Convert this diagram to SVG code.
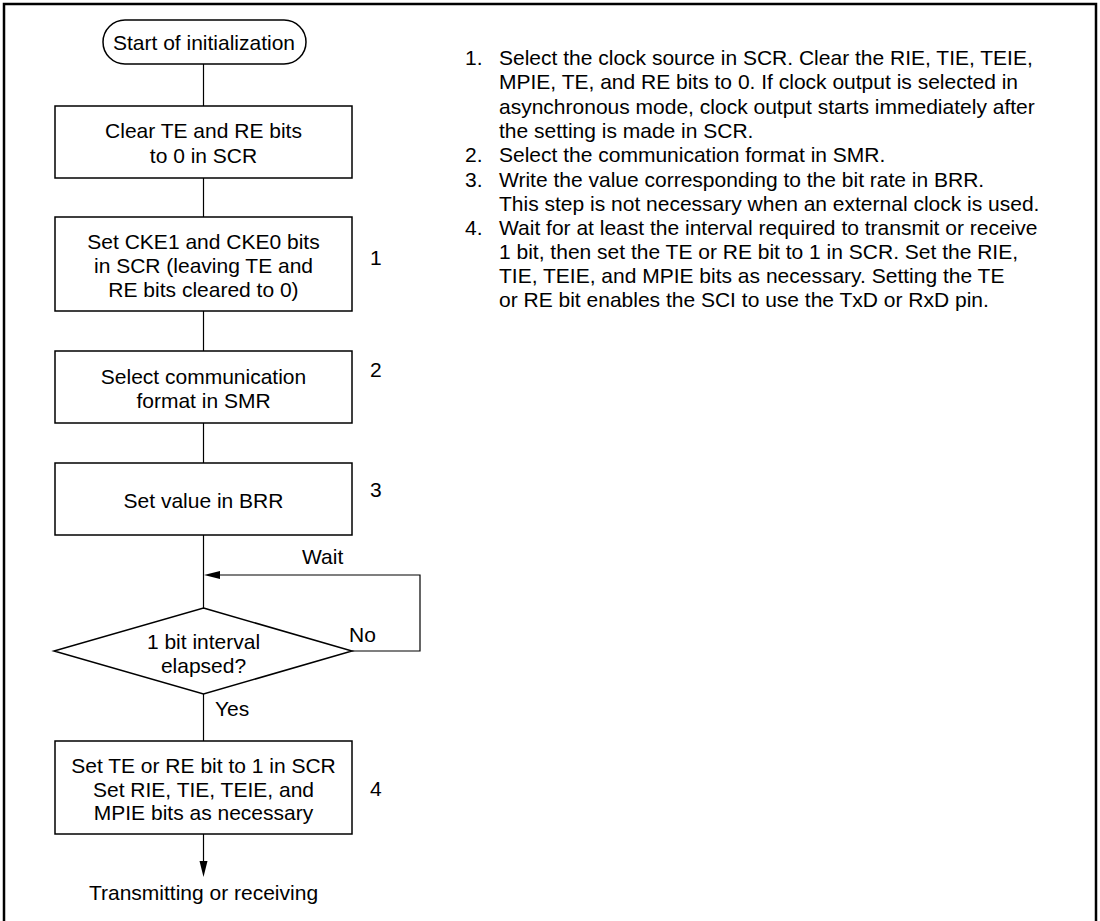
<svg xmlns="http://www.w3.org/2000/svg" width="1100" height="921" viewBox="0 0 1100 921">
<defs>
<style>
text{font-family:"Liberation Sans",Arial,sans-serif;font-size:21px;fill:#000}
.c{text-anchor:middle}
.n rect,.n path,.n polygon{fill:#fff;stroke:#000;stroke-width:1.5}
.k{fill:none;stroke:#000;stroke-width:1.2}
</style>
</defs>
<rect width="1100" height="921" fill="#fff"/>
<path d="M4,921 V4 H1096 V921" fill="none" stroke="#000" stroke-width="2.5"/>
<g id="connectors">
<line class="k" x1="203.5" y1="64" x2="203.5" y2="106"/>
<line class="k" x1="203.5" y1="178" x2="203.5" y2="217"/>
<line class="k" x1="203.5" y1="311" x2="203.5" y2="351"/>
<line class="k" x1="203.5" y1="423" x2="203.5" y2="463"/>
<line class="k" x1="203.5" y1="535" x2="203.5" y2="608"/>
<path class="k" d="M352,651 H420 V575 H220"/>
<polygon points="204,575 220,571 220,579" fill="#000"/>
<line class="k" x1="203.5" y1="694" x2="203.5" y2="741"/>
<line class="k" x1="203.5" y1="834" x2="203.5" y2="862"/>
<polygon points="203.5,877 199.5,861 207.5,861" fill="#000"/>
<text x="302" y="564">Wait</text>
<text x="349" y="642">No</text>
<text x="215" y="716">Yes</text>
</g>
<g id="start" class="n">
<rect x="103" y="20" width="203" height="44" rx="22" ry="22"/>
<text class="c" x="204" y="50">Start of initialization</text>
</g>
<g id="step-clear" class="n">
<rect x="55" y="106" width="297" height="72"/>
<text class="c" x="203.5" y="138">Clear TE and RE bits</text>
<text class="c" x="203.5" y="163">to 0 in SCR</text>
</g>
<g id="step-cke" class="n">
<rect x="55" y="217" width="297" height="94"/>
<text class="c" x="203.5" y="249">Set CKE1 and CKE0 bits</text>
<text class="c" x="203.5" y="273">in SCR (leaving TE and</text>
<text class="c" x="203.5" y="297">RE bits cleared to 0)</text>
<text x="370" y="265">1</text>
</g>
<g id="step-smr" class="n">
<rect x="55" y="351" width="297" height="72"/>
<text class="c" x="203.5" y="384">Select communication</text>
<text class="c" x="203.5" y="408">format in SMR</text>
<text x="370" y="377">2</text>
</g>
<g id="step-brr" class="n">
<rect x="55" y="463" width="297" height="72"/>
<text class="c" x="203.5" y="508">Set value in BRR</text>
<text x="370" y="497">3</text>
</g>
<g id="decision" class="n">
<polygon points="203.5,608 352,651 203.5,694 54,651"/>
<text class="c" x="203.5" y="649">1 bit interval</text>
<text class="c" x="203.5" y="673">elapsed?</text>
</g>
<g id="step-te" class="n">
<rect x="55" y="741" width="297" height="93"/>
<text class="c" x="203.5" y="773">Set TE or RE bit to 1 in SCR</text>
<text class="c" x="203.5" y="797">Set RIE, TIE, TEIE, and</text>
<text class="c" x="203.5" y="820">MPIE bits as necessary</text>
<text x="370" y="796">4</text>
</g>
<g id="end">
<text class="c" x="203.5" y="900">Transmitting or receiving</text>
</g>
<g id="notes">
<text x="465" y="65">1.</text>
<text x="499" y="65">Select the clock source in SCR. Clear the RIE, TIE, TEIE,</text>
<text x="499" y="89">MPIE, TE, and RE bits to 0. If clock output is selected in</text>
<text x="499" y="114">asynchronous mode, clock output starts immediately after</text>
<text x="499" y="138">the setting is made in SCR.</text>
<text x="465" y="162">2.</text>
<text x="499" y="162">Select the communication format in SMR.</text>
<text x="465" y="187">3.</text>
<text x="499" y="187">Write the value corresponding to the bit rate in BRR.</text>
<text x="499" y="211">This step is not necessary when an external clock is used.</text>
<text x="465" y="235">4.</text>
<text x="499" y="235">Wait for at least the interval required to transmit or receive</text>
<text x="499" y="259">1 bit, then set the TE or RE bit to 1 in SCR. Set the RIE,</text>
<text x="499" y="283">TIE, TEIE, and MPIE bits as necessary. Setting the TE</text>
<text x="499" y="307">or RE bit enables the SCI to use the TxD or RxD pin.</text>
</g>
</svg>
